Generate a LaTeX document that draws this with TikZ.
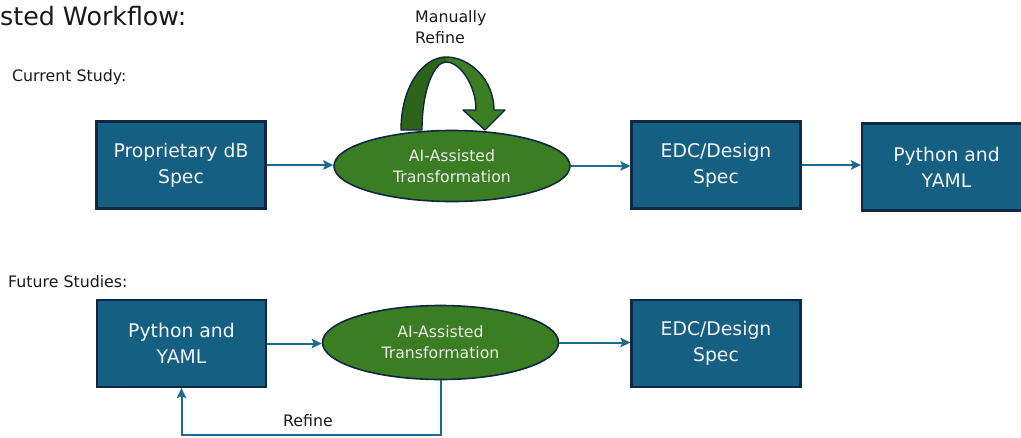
\documentclass[tikz,border=0pt]{standalone}
\usepackage{fontspec}
\setmainfont{DejaVu Sans}
\usetikzlibrary{arrows.meta,shapes.geometric}
\definecolor{boxblue}{HTML}{156082}
\definecolor{edgedark}{HTML}{0E2841}
\definecolor{leaf}{HTML}{3B7D23}
\definecolor{leafdark}{HTML}{2D6419}
\definecolor{linkblue}{HTML}{1B6A8F}
\definecolor{labeltext}{HTML}{1A1A1A}
\tikzset{
  stepbox/.style={draw=edgedark, line width=2.2pt, fill=boxblue, rectangle,
    minimum width=169pt, minimum height=87pt, inner sep=0pt, text=white!96!black,
    align=center, font=\fontsize{18.8}{26}\selectfont},
  aibubble/.style={draw=edgedark, line width=1.6pt, fill=leaf, ellipse,
    minimum width=236pt, minimum height=71pt, inner sep=0pt, text=white!92!black,
    align=center, font=\fontsize{15.7}{21}\selectfont},
  link/.style={draw=linkblue, line width=2pt, -{Stealth[length=10pt,width=9.5pt,inset=2pt]}},
  plainlabel/.style={inner sep=0pt, text=labeltext},
}
\begin{document}
\begin{tikzpicture}[x=1pt,y=-1pt]
\useasboundingbox[fill=white] (0,0) rectangle (1021,437);

% headings
\node[plainlabel, anchor=base west, font=\fontsize{25.3}{30}\selectfont] (title) at (0,25) {sted Workflow:};
\node[plainlabel, anchor=base west, font=\fontsize{15.8}{18}\selectfont] (cur) at (12,81) {Current Study:};
\node[plainlabel, anchor=base west, font=\fontsize{15.8}{18}\selectfont] (fut) at (8,287) {Future Studies:};

% curved "manually refine" arrow
\fill[leafdark] (401,130) .. controls (401,85) and (424,57) .. (446,57)
  -- (446,62) .. controls (434,62) and (422,90) .. (422,130) -- cycle;
\fill[leaf] (446,57) .. controls (470,57) and (494,80) .. (494,110)
  -- (505,110) -- (485,130) -- (463,110) -- (476,110)
  .. controls (476,85) and (460,62) .. (446,62) -- cycle;
\draw[edgedark, line width=1.4pt, line join=round]
  (401,130) .. controls (401,85) and (424,57) .. (446,57)
  .. controls (470,57) and (494,80) .. (494,110)
  -- (505,110) -- (485,130) -- (463,110) -- (476,110)
  .. controls (476,85) and (460,62) .. (446,62)
  .. controls (434,62) and (422,90) .. (422,130) -- cycle;
\node[plainlabel, anchor=base west, align=left, font=\fontsize{15.8}{20.6}\selectfont] (man) at (415,43.3) {Manually\\Refine};

% top row
\node[stepbox] (spec) at (181,165) {Proprietary dB\\Spec};
\node[aibubble] (ai1) at (452,166) {AI-Assisted\\Transformation};
\node[stepbox] (edc1) at (716,165) {EDC/Design\\Spec};
\node[stepbox] (py1) at (946.5,167) {Python and\\YAML};

\draw[link] (spec.east) -- (spec.east -| ai1.west);
\draw[link] (ai1.east) -- (ai1.east -| edc1.west);
\draw[link] (edc1.east) -- (edc1.east -| py1.west);

% bottom row
\node[stepbox] (py2) at (181.5,343.5) {Python and\\YAML};
\node[aibubble, minimum height=74pt] (ai2) at (440.5,342.5) {AI-Assisted\\Transformation};
\node[stepbox] (edc2) at (716,343.5) {EDC/Design\\Spec};

\draw[link] (py2.east) -- (py2.east -| ai2.west);
\draw[link] (ai2.east) -- (ai2.east -| edc2.west);
\draw[link] (ai2.south) -- ++(0,55) -| (py2.south);
\node[plainlabel, anchor=base, font=\fontsize{15.8}{20}\selectfont] (ref) at (308,426.7) {Refine};
\end{tikzpicture}
\end{document}
